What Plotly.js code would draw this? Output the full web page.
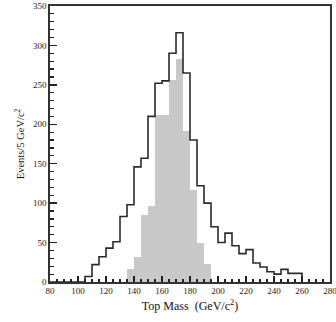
<!DOCTYPE html>
<html>
<head>
<meta charset="utf-8">
<script src="https://cdn.plot.ly/plotly-3.0.1.min.js"></script>
<style>
html,body{margin:0;padding:0;background:#fff;}
#chart{width:336px;height:322px;}
</style>
</head>
<body>
<div id="chart"></div>
<script>
// Bin left edges (GeV/c^2), width 5
var binWidth = 5;
var outlineLeft = [80,85,90,95,100,105,110,115,120,125,130,135,140,145,150,155,160,165,170,175,180,185,190,195,200,205,210,215,220,225,230,235,240,245,250,255];
var outlineCounts = [0,0,0,0,0,7,22,32,43,51,83,98,146,157,210,252,255,290,316,265,180,122,100,70,50,62,46,36,41,24,19,13,10,16,11,11];

var shadedLeft = [135,140,145,150,155,160,165,170,175,180,185,190];
var shadedCounts = [17,32,85,97,212,212,256,283,192,117,50,23];

var xTickVals = [80,100,120,140,160,180,200,220,240,260,280];
var yTickVals = [0,50,100,150,200,250,300,350];

// step outline built from the bin arrays
var stepX = outlineLeft.concat([outlineLeft[outlineLeft.length-1] + binWidth]);
var stepY = outlineCounts.concat([0]);
var shadedCenters = shadedLeft.map(function(v){ return v + binWidth/2; });

var serif = "Liberation Serif, Times New Roman, serif";

var traces = [
  {
    type: 'bar',
    x: shadedCenters,
    y: shadedCounts,
    width: binWidth,
    marker: {color: '#c8c8c8', line: {width: 0}},
    hoverinfo: 'skip'
  },
  {
    type: 'scatter',
    mode: 'lines',
    x: stepX,
    y: stepY,
    line: {shape: 'hv', color: '#2a2a2a', width: 1.6},
    hoverinfo: 'skip'
  }
];

var layout = {
  width: 336,
  height: 322,
  margin: {l: 50, r: 6, t: 6, b: 40},
  paper_bgcolor: '#ffffff',
  plot_bgcolor: '#ffffff',
  showlegend: false,
  bargap: 0,
  barmode: 'overlay',
  xaxis: {
    range: [80, 280],
    tickvals: xTickVals,
    ticktext: xTickVals.map(String),
    ticks: 'inside',
    ticklen: 6,
    tickwidth: 1.3,
    tickcolor: '#222',
    ticklabeloverflow: 'allow',
    minor: {dtick: 5, tick0: 80, ticks: 'inside', ticklen: 3, tickwidth: 1.2, tickcolor: '#222', showgrid: false},
    showgrid: false,
    zeroline: false,
    showline: true,
    linecolor: '#333',
    linewidth: 1.6,
    mirror: true,
    tickfont: {family: serif, size: 9, color: '#222'},
    title: {text: 'Top Mass\u00a0\u00a0(GeV/c<sup>2</sup>)', font: {family: serif, size: 12, color: '#111'}, standoff: 6},
    automargin: false,
    fixedrange: true
  },
  yaxis: {
    range: [0, 350],
    tickvals: yTickVals,
    ticktext: yTickVals.map(String),
    ticks: 'inside',
    ticklen: 7,
    tickwidth: 1.3,
    tickcolor: '#222',
    ticklabeloverflow: 'allow',
    minor: {dtick: 10, tick0: 0, ticks: 'inside', ticklen: 4, tickwidth: 1.2, tickcolor: '#222', showgrid: false},
    showgrid: false,
    zeroline: false,
    showline: true,
    linecolor: '#333',
    linewidth: 1.6,
    mirror: true,
    tickfont: {family: serif, size: 9, color: '#222'},
    title: {text: 'Events/5 GeV/c<sup>2</sup>', font: {family: serif, size: 10.5, color: '#111'}, standoff: 6},
    automargin: false,
    fixedrange: true
  }
};

Plotly.newPlot('chart', traces, layout, {displayModeBar: false, staticPlot: true});
</script>
</body>
</html>
